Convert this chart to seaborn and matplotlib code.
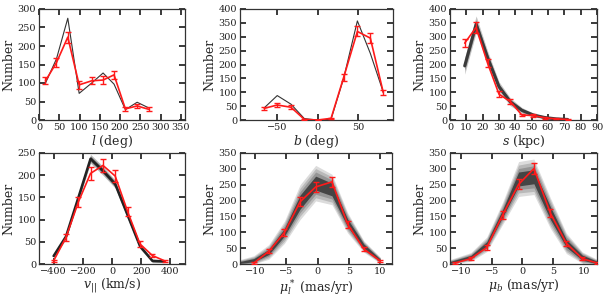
import numpy as np
import seaborn as sns
import matplotlib.pyplot as plt
from matplotlib.ticker import MultipleLocator

# ---- data ----
# galactic longitude l
l_x = [16, 43, 71, 99, 130, 158, 185, 213, 242, 270]
l_obs = [106, 155, 224, 95, 106, 108, 122, 30, 38, 29]
l_err = [10, 12, 15, 10, 10, 10, 11, 5, 6, 5]
l_mod = [100, 165, 275, 72, 100, 127, 97, 28, 48, 33]

# galactic latitude b
b_x = [-66, -50, -33, -16.5, 0, 16.5, 32, 49, 65, 81]
b_obs = [42, 54, 46, 2, 0, 6, 153, 319, 295, 99]
b_err = [6, 7, 7, 1.5, 0, 2.5, 12, 18, 17, 10]
b_mod = [44, 88, 57, 5, 0, 3, 150, 357, 240, 100]

# distance s
s_x = [9, 16, 23, 30, 37, 44, 51, 58, 65, 72]
s_obs = [277, 334, 205, 93, 66, 18, 16, 8, 4, 2]
s_err = [15, 20, 15, 10, 8, 4, 4, 3, 2, 1.5]
s_mod = [195, 345, 225, 120, 65, 35, 18, 9, 4, 2]
s_w_out = [30, 30, 24, 18, 14, 10, 7, 5, 3, 2]
s_w_in = [16, 16, 13, 10, 8, 6, 4, 3, 2, 1.5]

# line-of-sight velocity
v_x = [-400, -315, -230, -147, -62, 22, 107, 192, 277, 361]
v_obs = [7, 60, 140, 204, 222, 198, 118, 45, 19, 7]
v_err = [3, 8, 12, 14, 15, 14, 11, 7, 4, 3]
v_mod = [18, 62, 150, 237, 210, 180, 110, 40, 7, 6]
v_w_out = [5, 6, 8, 10, 10, 9, 8, 6, 4, 3]
v_w_in = [3, 4, 5, 6, 6, 6, 5, 4, 2, 2]

# proper motion mu_l*
ml_x = [-10.2, -7.8, -5.3, -2.8, -0.3, 2.3, 4.8, 7.4, 10.0]
ml_obs = [3, 40, 99, 196, 243, 259, 126, 47, 10]
ml_err = [2, 6, 10, 14, 16, 16, 11, 7, 3]
ml_mx = [-12.4, -10.2, -7.8, -5.3, -2.8, -0.3, 2.3, 4.8, 7.4, 10.0]
ml_mod = [5, 12, 38, 100, 195, 255, 235, 130, 55, 12]

# proper motion mu_b
mb_x = [-11.0, -8.4, -5.8, -3.2, -0.6, 1.9, 4.6, 7.2, 9.8, 12.2]
mb_obs = [3, 17, 52, 155, 251, 301, 160, 65, 17, 3]
mb_err = [2, 4, 7, 12, 16, 17, 13, 8, 4, 2]
mb_mx = [-11.8, -8.4, -5.8, -3.2, -0.6, 1.9, 4.6, 7.2, 9.8, 12.2]
mb_mod = [5, 22, 62, 160, 268, 275, 160, 65, 20, 5]

# percentile bands for the proper-motion panels (half widths, inner -> outer)
pm_w1 = [3, 5, 8, 12, 22, 22, 20, 12, 8, 4]
pm_w2 = [5, 8, 13, 20, 33, 35, 30, 20, 12, 6]
pm_w3 = [7, 11, 18, 28, 44, 46, 40, 26, 15, 8]
pm_w4 = [9, 14, 23, 35, 55, 56, 48, 32, 18, 10]

# ---- style ----
sns.set_theme(style="ticks")
plt.rcParams.update({
    "font.family": ["DejaVu Serif"],
    "mathtext.fontset": "dejavuserif",
    "xtick.direction": "in", "ytick.direction": "in",
    "xtick.top": True, "ytick.right": True,
    "xtick.major.size": 4, "ytick.major.size": 4,
    "xtick.labelsize": 7, "ytick.labelsize": 7,
    "axes.labelsize": 9,
    "axes.edgecolor": "#333333", "axes.linewidth": 0.9,
    "xtick.color": "#222222", "ytick.color": "#222222",
})

fig = plt.figure(figsize=(6.09, 2.99), dpi=100)
W, H = 609, 299
boxes = [(39, 9, 185, 120), (240, 9, 393, 120), (450, 9, 597, 120),
         (39, 153, 185, 264), (240, 153, 392, 264), (450, 153, 597, 264)]
axes = [fig.add_axes([x0 / W, 1 - y1 / H, (x1 - x0) / W, (y1 - y0) / H])
        for x0, y0, x1, y1 in boxes]

red = "#ff1a1a"


def data(ax, x, y, e):
    ax.errorbar(x, y, yerr=e, color=red, lw=1.2, elinewidth=1.0,
                capsize=2.5, capthick=1.0, zorder=5)


def band(ax, x, m, widths, colors):
    m = np.asarray(m, float)
    for w, c in zip(widths, colors):
        w = np.asarray(w, float)
        ax.fill_between(x, np.clip(m - w, 0, None), m + w, color=c, lw=0, zorder=1)


# l
ax = axes[0]
sns.lineplot(x=l_x, y=l_mod, ax=ax, color="#333333", lw=0.8, sort=False)
data(ax, l_x, l_obs, l_err)
ax.set_xlim(0, 360)
ax.set_ylim(0, 300)
ax.set_xticks(range(0, 351, 50))
ax.set_xlabel(r"$l$ (deg)")

# b
ax = axes[1]
sns.lineplot(x=b_x, y=b_mod, ax=ax, color="#333333", lw=0.8, sort=False)
data(ax, b_x, b_obs, b_err)
ax.set_xlim(-96, 93)
ax.set_ylim(0, 400)
ax.set_xticks([-50, 0, 50])
ax.set_xlabel(r"$b$ (deg)")

# s
ax = axes[2]
band(ax, s_x, s_mod, [s_w_out, s_w_in], ["#c4c4c4", "#858585"])
sns.lineplot(x=s_x, y=s_mod, ax=ax, color="#3a3a3a", lw=2.2, sort=False)
data(ax, s_x, s_obs, s_err)
ax.set_xlim(0, 90)
ax.set_ylim(0, 400)
ax.set_xticks(range(0, 91, 10))
ax.set_xlabel(r"$s$ (kpc)")

# v
ax = axes[3]
band(ax, v_x, v_mod, [v_w_out, v_w_in], ["#bdbdbd", "#707070"])
sns.lineplot(x=v_x, y=v_mod, ax=ax, color="#222222", lw=1.8, sort=False)
data(ax, v_x, v_obs, v_err)
ax.set_xlim(-500, 500)
ax.set_ylim(0, 250)
ax.set_xticks([-400, -200, 0, 200, 400])
ax.set_xlabel(r"$v_{||}$ (km/s)")

pm_cols = ["#dcdcdc", "#b9b9b9", "#959595", "#444444"]
pm_widths = [pm_w4, pm_w3, pm_w2, pm_w1]

# mu_l
ax = axes[4]
band(ax, ml_mx, ml_mod, pm_widths, pm_cols)
data(ax, ml_x, ml_obs, ml_err)
ax.set_xlim(-12.4, 11.9)
ax.set_ylim(0, 350)
ax.set_xticks([-10, -5, 0, 5, 10])
ax.set_xlabel(r"$\mu_l^*$ (mas/yr)")

# mu_b
ax = axes[5]
band(ax, mb_mx, mb_mod, pm_widths, pm_cols)
data(ax, mb_x, mb_obs, mb_err)
ax.set_xlim(-11.8, 12.2)
ax.set_ylim(0, 350)
ax.set_xticks([-10, -5, 0, 5, 10])
ax.set_xlabel(r"$\mu_b$ (mas/yr)")

for ax in axes:
    ax.yaxis.set_major_locator(MultipleLocator(50))
    ax.set_ylabel("Number")
    ax.xaxis.labelpad = 1
    ax.yaxis.labelpad = 2
    ax.tick_params(pad=2)

fig.savefig("out.png", dpi=100)
